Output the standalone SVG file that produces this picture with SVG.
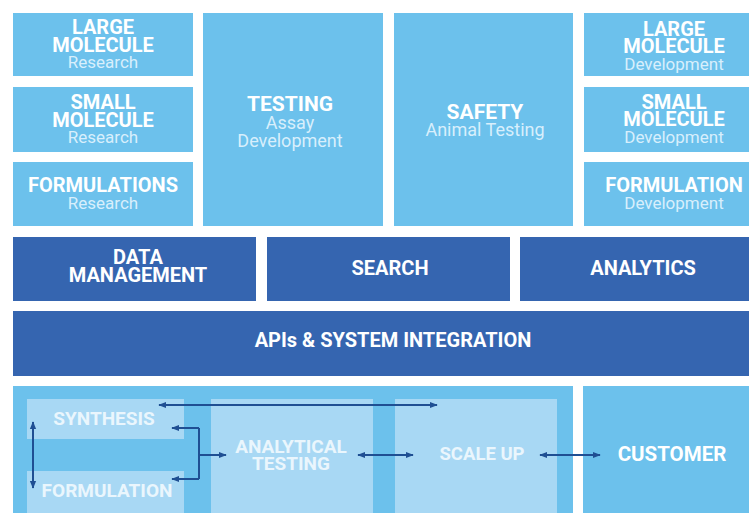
<svg xmlns="http://www.w3.org/2000/svg" width="749" height="513" viewBox="0 0 749 513">
<style>
.lb{fill:#6cc1ec}
.ib{fill:#a8d8f4}
.db{fill:#3565b0}
.t{font-family:Roboto,"Liberation Sans",sans-serif;font-weight:700;fill:#ffffff;text-anchor:middle}
.s{font-family:Roboto,"Liberation Sans",sans-serif;font-weight:400;fill:#d8effc;text-anchor:middle}
.w{font-family:Roboto,"Liberation Sans",sans-serif;font-weight:700;fill:#eaf6fd;text-anchor:middle}
.c{stroke:#1f4f93;stroke-width:2;fill:none}
</style>
<defs>
<marker id="ah" viewBox="0 0 10 10" refX="9" refY="5" markerWidth="4" markerHeight="4" orient="auto-start-reverse">
<path d="M0,1 L10,5 L0,9 z" fill="#1f4f93"/>
</marker>
</defs>
<rect width="749" height="513" fill="#ffffff"/>

<g id="large-molecule-research">
<rect class="lb" x="13" y="13" width="180" height="63"/>
<text class="t" x="103" y="34" font-size="20">LARGE</text>
<text class="t" x="103" y="52" font-size="20">MOLECULE</text>
<text class="s" x="103" y="68" font-size="17">Research</text>
</g>
<g id="small-molecule-research">
<rect class="lb" x="13" y="87" width="180" height="65"/>
<text class="t" x="103" y="109" font-size="20">SMALL</text>
<text class="t" x="103" y="127" font-size="20">MOLECULE</text>
<text class="s" x="103" y="143" font-size="17">Research</text>
</g>
<g id="formulations-research">
<rect class="lb" x="13" y="162" width="180" height="64"/>
<text class="t" x="103" y="192" font-size="20">FORMULATIONS</text>
<text class="s" x="103" y="209" font-size="17">Research</text>
</g>
<g id="testing">
<rect class="lb" x="203" y="13" width="180" height="213"/>
<text class="t" x="290" y="111" font-size="21">TESTING</text>
<text class="s" x="290" y="129" font-size="18">Assay</text>
<text class="s" x="290" y="147" font-size="18">Development</text>
</g>
<g id="safety">
<rect class="lb" x="394" y="13" width="179" height="213"/>
<text class="t" x="485" y="119" font-size="21">SAFETY</text>
<text class="s" x="485" y="136" font-size="18">Animal Testing</text>
</g>
<g id="large-molecule-development">
<rect class="lb" x="584" y="13" width="165" height="63"/>
<text class="t" x="674" y="36" font-size="20">LARGE</text>
<text class="t" x="674" y="53" font-size="20">MOLECULE</text>
<text class="s" x="674" y="70" font-size="17">Development</text>
</g>
<g id="small-molecule-development">
<rect class="lb" x="584" y="87" width="165" height="65"/>
<text class="t" x="674" y="109" font-size="20">SMALL</text>
<text class="t" x="674" y="126" font-size="20">MOLECULE</text>
<text class="s" x="674" y="143" font-size="17">Development</text>
</g>
<g id="formulation-development">
<rect class="lb" x="584" y="162" width="165" height="64"/>
<text class="t" x="674" y="192" font-size="20">FORMULATION</text>
<text class="s" x="674" y="209" font-size="17">Development</text>
</g>

<g id="data-management">
<rect class="db" x="13" y="237" width="243" height="64"/>
<text class="t" x="138" y="264" font-size="20">DATA</text>
<text class="t" x="138" y="282" font-size="20">MANAGEMENT</text>
</g>
<g id="search">
<rect class="db" x="267" y="237" width="243" height="64"/>
<text class="t" x="390" y="275" font-size="20">SEARCH</text>
</g>
<g id="analytics">
<rect class="db" x="520" y="237" width="229" height="64"/>
<text class="t" x="643" y="275" font-size="20">ANALYTICS</text>
</g>
<g id="apis">
<rect class="db" x="13" y="311" width="736" height="65"/>
<text class="t" x="393" y="347" font-size="20">APIs &amp; SYSTEM INTEGRATION</text>
</g>

<g id="process">
<rect class="lb" x="13" y="386" width="560" height="127"/>
</g>
<g id="synthesis">
<rect class="ib" x="27" y="399" width="157" height="40"/>
<text class="w" x="104" y="425" font-size="19">SYNTHESIS</text>
</g>
<g id="formulation">
<rect class="ib" x="27" y="471" width="157" height="42"/>
<text class="w" x="107" y="497" font-size="19">FORMULATION</text>
</g>
<g id="analytical-testing">
<rect class="ib" x="211" y="399" width="162" height="114"/>
<text class="w" x="291" y="453" font-size="19">ANALYTICAL</text>
<text class="w" x="291" y="470" font-size="19">TESTING</text>
</g>
<g id="scale-up">
<rect class="ib" x="395" y="399" width="162" height="114"/>
<text class="w" x="482" y="460" font-size="18.5">SCALE UP</text>
</g>
<g id="customer">
<rect class="lb" x="583" y="386" width="166" height="127"/>
<text class="t" x="672" y="461" font-size="20.5">CUSTOMER</text>
</g>

<g id="connectors">
<line class="c" x1="159" y1="405" x2="437" y2="405" marker-start="url(#ah)" marker-end="url(#ah)"/>
<line class="c" x1="33" y1="422" x2="33" y2="488" marker-start="url(#ah)" marker-end="url(#ah)"/>
<polyline class="c" points="199,428 199,479"/>
<line class="c" x1="199" y1="428" x2="172" y2="428" marker-end="url(#ah)"/>
<line class="c" x1="199" y1="479" x2="172" y2="479" marker-end="url(#ah)"/>
<line class="c" x1="199" y1="455" x2="226" y2="455" marker-end="url(#ah)"/>
<line class="c" x1="358" y1="455" x2="413" y2="455" marker-start="url(#ah)" marker-end="url(#ah)"/>
<line class="c" x1="540" y1="455" x2="600" y2="455" marker-start="url(#ah)" marker-end="url(#ah)"/>
</g>
</svg>
